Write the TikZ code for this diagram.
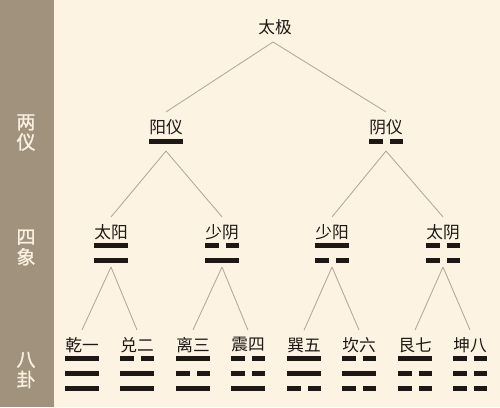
\documentclass[tikz,border=0pt]{standalone}
\usepackage{fontspec}
\newfontfamily\cjk{Noto Sans CJK SC}
\newfontfamily\cjkside[FakeBold=1.2]{Noto Sans CJK SC}
\definecolor{paper}{RGB}{252,243,226}
\definecolor{band}{RGB}{161,146,125}
\definecolor{bandtext}{RGB}{248,240,225}
\definecolor{ink}{RGB}{30,24,20}
\definecolor{twiggray}{RGB}{180,170,154}

% one whole line and one broken line, centred at (#1,#2)
\newcommand{\yang}[2]{\fill[ink] (#1-17,#2-2.5) rectangle (#1+17,#2+2.5);}
\newcommand{\yin}[2]{\fill[ink] (#1-17,#2-2.5) rectangle (#1-3.5,#2+2.5);
  \fill[ink] (#1+3.5,#2-2.5) rectangle (#1+17,#2+2.5);}

\begin{document}
\begin{tikzpicture}[
                x=0.02cm, y=-0.02cm,
                word/.style={font=\cjk\fontsize{9.5}{11}\selectfont, text=ink, inner sep=4pt},
                side/.style={font=\cjkside\fontsize{10.8}{11.5}\selectfont, text=bandtext, align=center},
                branch/.style={draw=twiggray, line width=0.5pt}
            ]
            \fill[paper] (0,0) rectangle (500,407);
            \fill[band] (0,0) rectangle (54,407);

            \node[side] (Liangyi) at (26,132.5) {两\\仪};
            \node[side] (Sixiang) at (26,247.5) {四\\象};
            \node[side] (Bagua) at (26,370) {八\\卦};

            \node[word] (Taiji) at (275,27) {太极};
            \coordinate (Taiji_b) at (273,42);

            \node[word] (Yangyi) at (166,127) {阳仪};
            \node[word] (Yinyi) at (386,127) {阴仪};
            \yang{166}{141.5}
            \yin{386}{141.5}
            \coordinate (Yangyi_b) at (166,151);
            \coordinate (Yinyi_b) at (386,151);

            \node[word] (Taiyang) at (111,232) {太阳};
            \node[word] (Shaoyin) at (222,232) {少阴};
            \node[word] (Shaoyang) at (332,232) {少阳};
            \node[word] (Taiyin) at (443,232) {太阴};
            \yang{111}{245.5} \yang{111}{260.5}
            \yin{222}{245.5} \yang{222}{260.5}
            \yang{332}{245.5} \yin{332}{260.5}
            \yin{443}{245.5} \yin{443}{260.5}
            \coordinate (Taiyang_b) at (111,267);
            \coordinate (Shaoyin_b) at (222,267);
            \coordinate (Shaoyang_b) at (332,267);
            \coordinate (Taiyin_b) at (443,267);

            \node[word] (Qian) at (82,345) {乾一};
            \node[word] (Dui) at (137,345) {兑二};
            \node[word] (Li) at (193,345) {离三};
            \node[word] (Zhen) at (248,345) {震四};
            \node[word] (Xun) at (304,345) {巽五};
            \node[word] (Kan) at (359,345) {坎六};
            \node[word] (Gen) at (415,345) {艮七};
            \node[word] (Kun) at (470,345) {坤八};

            \yang{82}{358.5} \yang{82}{373.5} \yang{82}{388.5}
            \yin{137}{358.5} \yang{137}{373.5} \yang{137}{388.5}
            \yang{193}{358.5} \yin{193}{373.5} \yang{193}{388.5}
            \yin{248}{358.5} \yin{248}{373.5} \yang{248}{388.5}
            \yang{304}{358.5} \yang{304}{373.5} \yin{304}{388.5}
            \yin{359}{358.5} \yang{359}{373.5} \yin{359}{388.5}
            \yang{415}{358.5} \yin{415}{373.5} \yin{415}{388.5}
            \yin{470}{358.5} \yin{470}{373.5} \yin{470}{388.5}

            \draw[branch] (Taiji_b) -- (Yangyi.north);
            \draw[branch] (Taiji_b) -- (Yinyi.north);

            \draw[branch] (Yangyi_b) -- (Taiyang.north);
            \draw[branch] (Yangyi_b) -- (Shaoyin.north);
            \draw[branch] (Yinyi_b) -- (Shaoyang.north);
            \draw[branch] (Yinyi_b) -- (Taiyin.north);

            \draw[branch] (Taiyang_b) -- (Qian.north);
            \draw[branch] (Taiyang_b) -- (Dui.north);
            \draw[branch] (Shaoyin_b) -- (Li.north);
            \draw[branch] (Shaoyin_b) -- (Zhen.north);
            \draw[branch] (Shaoyang_b) -- (Xun.north);
            \draw[branch] (Shaoyang_b) -- (Kan.north);
            \draw[branch] (Taiyin_b) -- (Gen.north);
            \draw[branch] (Taiyin_b) -- (Kun.north);
        \end{tikzpicture}
\end{document}
